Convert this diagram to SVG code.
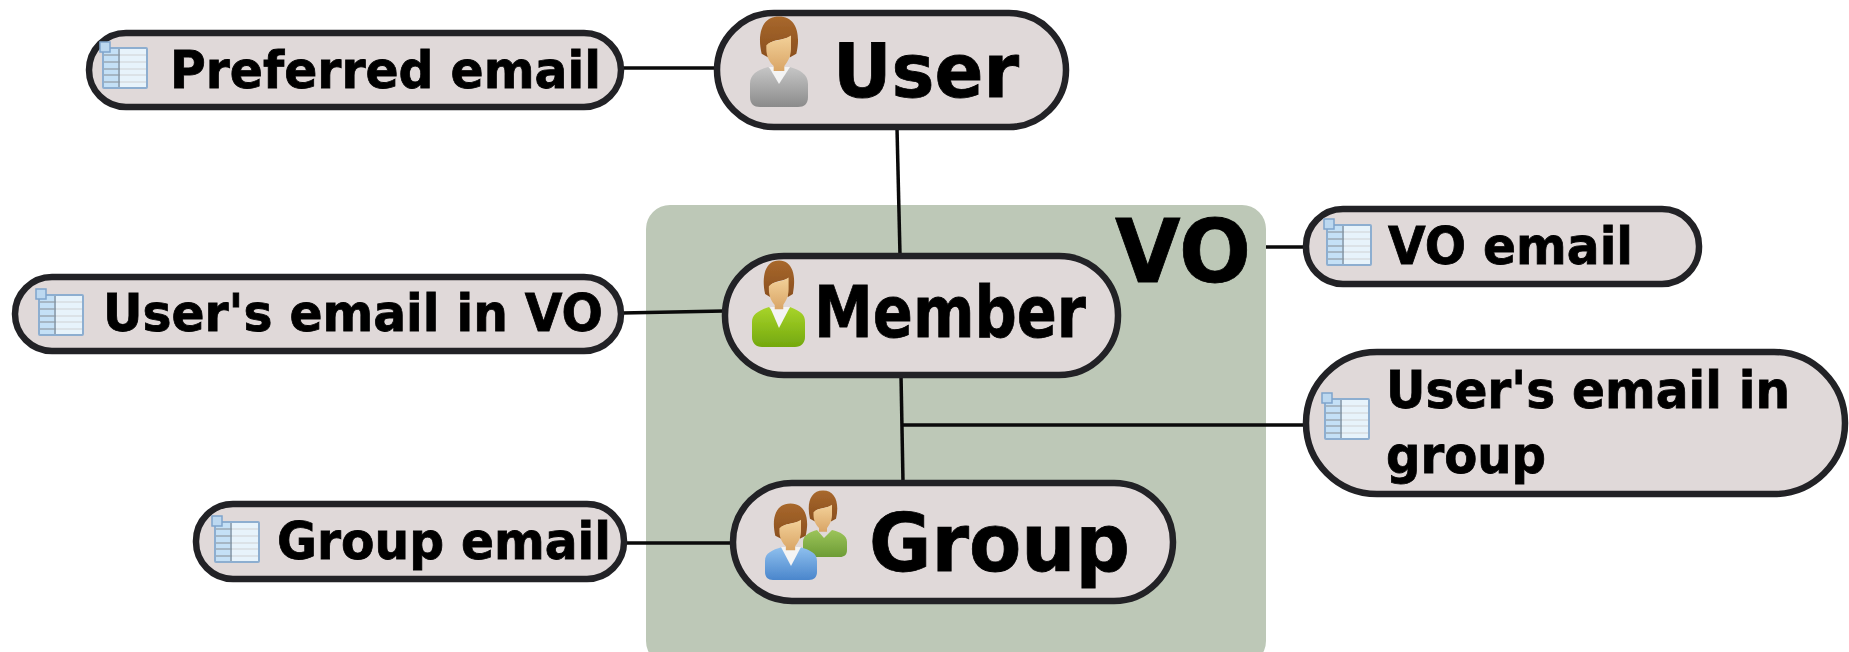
<svg xmlns="http://www.w3.org/2000/svg" width="1849" height="652" viewBox="0 0 1849 652">
<style>
.pill{fill:#e0d9d9;stroke:#222226;stroke-width:6.5}
.c{fill:none;stroke:#0a0a0a;stroke-width:3.5}
.icon{filter:url(#soft)}
text{font-family:"DejaVu Sans",sans-serif;font-weight:700;fill:#000;stroke:#000;stroke-width:.8}
.leaf{font-size:51px}
</style>
<defs>
<filter id="soft" x="-10%" y="-10%" width="120%" height="120%"><feGaussianBlur stdDeviation="0.7"/></filter>
<linearGradient id="hair" x1="0" y1="0" x2="0" y2="1"><stop offset="0" stop-color="#a8682c"/><stop offset="1" stop-color="#8a4f1e"/></linearGradient>
<linearGradient id="face" x1="0" y1="0" x2="0" y2="1"><stop offset="0" stop-color="#f3d199"/><stop offset="1" stop-color="#d9a566"/></linearGradient>
<linearGradient id="grey" x1="0" y1="0" x2="0" y2="1"><stop offset="0" stop-color="#c6c6c6"/><stop offset="1" stop-color="#8b8b8b"/></linearGradient>
<linearGradient id="green" x1="0" y1="0" x2="0" y2="1"><stop offset="0" stop-color="#a8d42a"/><stop offset="1" stop-color="#73a80e"/></linearGradient>
<linearGradient id="green2" x1="0" y1="0" x2="0" y2="1"><stop offset="0" stop-color="#9cc45a"/><stop offset="1" stop-color="#6d9c35"/></linearGradient>
<linearGradient id="blue" x1="0" y1="0" x2="0" y2="1"><stop offset="0" stop-color="#8fc0ee"/><stop offset="1" stop-color="#4a86cc"/></linearGradient>
<symbol id="head" viewBox="0 0 60 95" overflow="visible" preserveAspectRatio="none">
<path d="M4 62C-3 30 4 1 30 1C56 1 63 30 56 62L46 68L46 34C34 40 22 38 14 46L14 68Z" fill="url(#hair)"/>
<path d="M11 48C20 38 34 42 48 32L48 54C48 68 41 78 38 82L38 90L22 90L22 82C16 76 11 66 11 54Z" fill="url(#face)"/>
</symbol>
<g id="table">
<rect x="2" y="6" width="44" height="40" rx="1" fill="#c4e0f6" stroke="#8daed0" stroke-width="2"/>
<path d="M3 13H45M3 20H45M3 27H45M3 33H45M3 40H45" stroke="#9aa8b4" stroke-width="1.5" fill="none"/>
<rect x="19" y="7" width="26" height="38" fill="#fff" opacity=".6"/>
<path d="M18 7V45" stroke="#8a98a6" stroke-width="1.5"/>
<rect x="-1" y="0" width="10" height="10" fill="#bcd8f0" stroke="#7fa4cc" stroke-width="1.5"/>
</g>
</defs>
<rect x="646" y="205" width="620" height="460" rx="24" fill="#bdc8b7"/>
<text x="1115" y="282" font-size="88" textLength="136" lengthAdjust="spacingAndGlyphs">VO</text>
<g id="connectors">
<path class="c" d="M622 68H716"/>
<path class="c" d="M897 128L900 255"/>
<path class="c" d="M622 313L724 311"/>
<path class="c" d="M901 375L903 482"/>
<path class="c" d="M902 425H1305"/>
<path class="c" d="M625 543H731"/>
<path class="c" d="M1266 247H1305"/>
</g>
<g id="node-preferred-email">
<rect class="pill" x="89" y="33" width="532" height="74" rx="37"/>
<use class="icon" href="#table" x="101" y="42"/>
<text class="leaf" x="170" y="88" textLength="431" lengthAdjust="spacingAndGlyphs">Preferred email</text>
</g>
<g id="node-user">
<rect class="pill" x="717" y="13" width="349" height="114" rx="57"/>
<g class="icon">
<path d="M750 84C750 74 758 70 768 67L779 75L790 67C800 70 808 74 808 84V97C808 104 804 107 798 107H760C754 107 750 104 750 97Z" fill="url(#grey)"/>
<path d="M769 67L779 84L790 67Z" fill="#f4f4f4"/>
<use href="#head" x="759" y="16" width="40" height="58"/>
</g>
<text x="833" y="97" font-size="75" textLength="186" lengthAdjust="spacingAndGlyphs">User</text>
</g>
<g id="node-users-email-in-vo">
<rect class="pill" x="15" y="277" width="606" height="74" rx="37"/>
<use class="icon" href="#table" x="37" y="289"/>
<text class="leaf" x="103" y="331" textLength="500" lengthAdjust="spacingAndGlyphs">User's email in VO</text>
</g>
<g id="node-member">
<rect class="pill" x="725" y="256" width="393" height="119" rx="59"/>
<g class="icon">
<path d="M752 322C752 314 758 311 769 307L779 320L790 307C800 311 805 314 805 322V337C805 343 801 347 795 347H762C756 347 752 343 752 337Z" fill="url(#green)"/>
<path d="M770 307L779 328L790 307Z" fill="#f4f4f4"/>
<use href="#head" x="763" y="260" width="32" height="52"/>
</g>
<text x="814" y="337" font-size="72" textLength="272" lengthAdjust="spacingAndGlyphs">Member</text>
</g>
<g id="node-group">
<rect class="pill" x="733" y="483" width="440" height="118" rx="59"/>
<g class="icon">
<path d="M803 542C803 535 810 532 817 530L824 538L832 530C840 532 847 535 847 542V550C847 555 844 557 840 557H810C806 557 803 555 803 550Z" fill="url(#green2)"/>
<use href="#head" x="808" y="490" width="30" height="44"/>
<path d="M765 561C765 553 772 550 782 547L791 560L800 547C810 550 817 553 817 561V572C817 577 814 580 809 580H773C768 580 765 577 765 572Z" fill="url(#blue)"/>
<path d="M781 547L791 566L801 547Z" fill="#f4f4f4"/>
<use href="#head" x="773" y="503" width="35" height="50"/>
</g>
<text x="869" y="571" font-size="80" textLength="261" lengthAdjust="spacingAndGlyphs">Group</text>
</g>
<g id="node-group-email">
<rect class="pill" x="196" y="504" width="428" height="75" rx="37"/>
<use class="icon" href="#table" x="213" y="516"/>
<text class="leaf" x="277" y="559" textLength="334" lengthAdjust="spacingAndGlyphs">Group email</text>
</g>
<g id="node-vo-email">
<rect class="pill" x="1306" y="209" width="393" height="75" rx="37"/>
<use class="icon" href="#table" x="1325" y="219"/>
<text class="leaf" x="1388" y="264" textLength="245" lengthAdjust="spacingAndGlyphs">VO email</text>
</g>
<g id="node-users-email-in-group">
<rect class="pill" x="1306" y="352" width="539" height="142" rx="71"/>
<use class="icon" href="#table" x="1323" y="393"/>
<text class="leaf" x="1386" y="408" textLength="404" lengthAdjust="spacingAndGlyphs">User's email in</text>
<text class="leaf" x="1386" y="473" textLength="160" lengthAdjust="spacingAndGlyphs">group</text>
</g>
</svg>
